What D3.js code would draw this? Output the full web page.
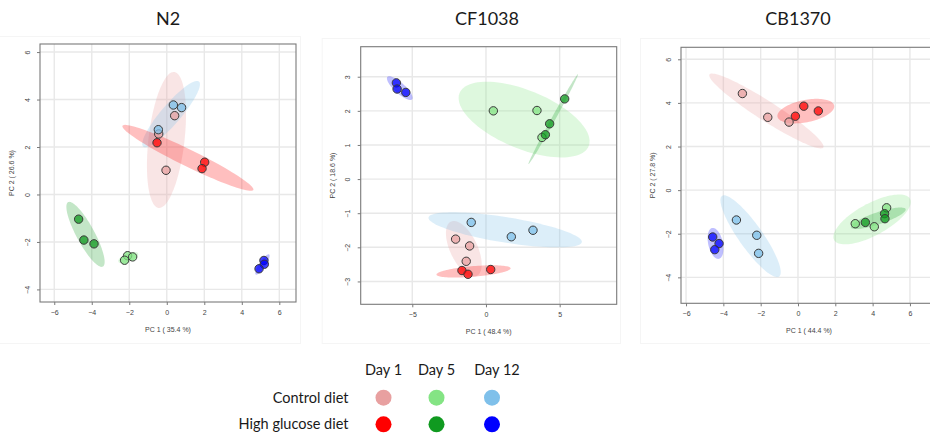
<!DOCTYPE html>
<html>
<head>
<meta charset="utf-8">
<script src="https://cdn.jsdelivr.net/npm/d3@7"></script>
<style>
  html, body { margin: 0; padding: 0; background: #fff; }
  svg { display: block; }
</style>
</head>
<body>
<svg id="chart" width="930" height="435"></svg>
<script>
// PCA scores (PC1, PC2) per strain, diet and day
const n2Control1 = [[0.42, 3.32], [-0.43, 2.55], [-0.04, 1.02]];
const n2Control5 = [[-2.09, -2.58], [-1.82, -2.63], [-2.25, -2.77]];
const n2Control12 = [[0.35, 3.77], [0.79, 3.66], [-0.45, 2.73]];
const n2Glucose1 = [[-0.52, 2.18], [2.02, 1.36], [1.88, 1.09]];
const n2Glucose5 = [[-4.70, -1.04], [-4.42, -1.92], [-3.88, -2.08]];
const n2Glucose12 = [[5.18, -2.78], [5.20, -2.94], [4.92, -3.13]];

const cfControl1 = [[-2.06, -1.76], [-1.11, -1.96], [-1.34, -2.41]];
const cfControl5 = [[0.50, 2.00], [3.46, 2.01], [3.80, 1.22]];
const cfControl12 = [[-1.00, -1.27], [1.72, -1.69], [3.19, -1.50]];
const cfGlucose1 = [[-1.63, -2.68], [-1.22, -2.79], [0.32, -2.65]];
const cfGlucose5 = [[5.34, 2.35], [4.32, 1.62], [4.03, 1.30]];
const cfGlucose12 = [[-6.08, 2.82], [-6.03, 2.64], [-5.44, 2.54]];

const cbControl1 = [[-2.98, 4.43], [-1.62, 3.34], [-0.48, 3.12]];
const cbControl5 = [[3.07, -1.54], [4.09, -1.68], [4.75, -0.81]];
const cbControl12 = [[-3.30, -1.37], [-2.21, -2.07], [-2.11, -2.90]];
const cbGlucose1 = [[-0.14, 3.39], [0.31, 3.85], [1.09, 3.63]];
const cbGlucose5 = [[3.61, -1.48], [4.64, -1.08], [4.66, -1.31]];
const cbGlucose12 = [[-4.57, -2.15], [-4.23, -2.45], [-4.46, -2.73]];

const strains = ["N2", "CF1038", "CB1370"];
const pc1Labels = ["PC 1 ( 35.4 %)", "PC 1 ( 48.4 %)", "PC 1 ( 44.4 %)"];
const pc2Labels = ["PC 2 ( 26.6 %)", "PC 2 ( 18.6 %)", "PC 2 ( 27.8 %)"];
const xTickValues = [[-6, -4, -2, 0, 2, 4, 6], [-5, 0, 5], [-6, -4, -2, 0, 2, 4, 6]];
const yTickValues = [[-4, -2, 0, 2, 4, 6], [-3, -2, -1, 0, 1, 2, 3], [-4, -2, 0, 2, 4, 6]];
const xDomains = [[-6.76, 6.89], [-8.5, 8.87], [-6.27, 7.45]];
const yDomains = [[-4.53, 6.34], [-3.67, 3.88], [-5.19, 6.55]];

const days = ["Day 1", "Day 5", "Day 12"];
const diets = ["Control diet", "High glucose diet"];
const controlColors = ["#e8a0a0", "#84e484", "#7fc0ea"];
const glucoseColors = ["#ff0000", "#109a20", "#0000ff"];

// groups per strain, ordered: control d1, d5, d12, glucose d1, d5, d12
const strainGroups = [
  [n2Control1, n2Control5, n2Control12, n2Glucose1, n2Glucose5, n2Glucose12],
  [cfControl1, cfControl5, cfControl12, cfGlucose1, cfGlucose5, cfGlucose12],
  [cbControl1, cbControl5, cbControl12, cbGlucose1, cbGlucose5, cbGlucose12]
];
const groupColors = controlColors.concat(glucoseColors);

// panel frames (px)
const frames = [
  { left: 40, top: 44, width: 256, height: 258 },
  { left: 360.7, top: 46.7, width: 256, height: 257.6 },
  { left: 681, top: 47.3, width: 256, height: 256 }
];
// outer panel borders (faint)
const panelBoxes = [
  { x: -2, y: 36, w: 302, h: 307 },
  { x: 321.7, y: 38, w: 298.3, h: 305 },
  { x: 640, y: 38, w: 300, h: 305 }
];

const svg = d3.select("#chart");
svg.append("rect").attr("width", 930).attr("height", 435).attr("fill", "#fff");

svg.selectAll("rect.panel").data(panelBoxes).join("rect")
  .attr("class", "panel")
  .attr("x", d => d.x + 0.5).attr("y", d => d.y + 0.5)
  .attr("width", d => d.w).attr("height", d => d.h)
  .attr("fill", "none").attr("stroke", "#f5f5f5").attr("stroke-width", 1);

const chi2Radius = Math.sqrt(5.991465); // 95% level, 2 dof

// 95% confidence ellipse from sample covariance
function ellipsePoints(pts) {
  const n = pts.length;
  const mx = d3.mean(pts, d => d[0]);
  const my = d3.mean(pts, d => d[1]);
  let sxx = 0, syy = 0, sxy = 0;
  pts.forEach(([x, y]) => {
    sxx += (x - mx) * (x - mx);
    syy += (y - my) * (y - my);
    sxy += (x - mx) * (y - my);
  });
  sxx /= (n - 1); syy /= (n - 1); sxy /= (n - 1);
  const tr = sxx + syy, det = sxx * syy - sxy * sxy;
  const disc = Math.sqrt(Math.max(0, tr * tr / 4 - det));
  const l1 = tr / 2 + disc, l2 = Math.max(0, tr / 2 - disc);
  let v1;
  if (Math.abs(sxy) > 1e-12) v1 = [l1 - syy, sxy];
  else v1 = sxx >= syy ? [1, 0] : [0, 1];
  const norm = Math.hypot(v1[0], v1[1]);
  v1 = [v1[0] / norm, v1[1] / norm];
  const v2 = [-v1[1], v1[0]];
  const a = chi2Radius * Math.sqrt(l1), b = chi2Radius * Math.sqrt(l2);
  const out = [];
  for (let i = 0; i < 100; i++) {
    const t = 2 * Math.PI * i / 100;
    const c = Math.cos(t) * a, s = Math.sin(t) * b;
    out.push([mx + c * v1[0] + s * v2[0], my + c * v1[1] + s * v2[1]]);
  }
  return out;
}

strains.forEach((name, k) => {
  const f = frames[k];
  const x = d3.scaleLinear().domain(xDomains[k]).range([f.left, f.left + f.width]);
  const y = d3.scaleLinear().domain(yDomains[k]).range([f.top + f.height, f.top]);
  const g = svg.append("g");

  const clipId = "clip" + k;
  g.append("clipPath").attr("id", clipId).append("rect")
    .attr("x", f.left).attr("y", f.top).attr("width", f.width).attr("height", f.height);

  const plot = g.append("g").attr("clip-path", `url(#${clipId})`);

  // grid
  plot.selectAll("line.gx").data(xTickValues[k]).join("line")
    .attr("x1", d => x(d)).attr("x2", d => x(d))
    .attr("y1", f.top).attr("y2", f.top + f.height)
    .attr("stroke", "#e8e8e8").attr("stroke-width", 1.4);
  plot.selectAll("line.gy").data(yTickValues[k]).join("line")
    .attr("y1", d => y(d)).attr("y2", d => y(d))
    .attr("x1", f.left).attr("x2", f.left + f.width)
    .attr("stroke", "#e8e8e8").attr("stroke-width", 1.4);

  const line = d3.line().x(d => x(d[0])).y(d => y(d[1])).curve(d3.curveLinearClosed);
  const groups = strainGroups[k];

  // ellipses
  groups.forEach((pts, i) => {
    plot.append("path")
      .attr("d", line(ellipsePoints(pts)))
      .attr("fill", groupColors[i])
      .attr("fill-opacity", i < 3 ? 0.27 : 0.25)
      .attr("stroke", "none");
  });

  // sample points
  groups.forEach((pts, i) => {
    plot.selectAll(null).data(pts).join("circle")
      .attr("cx", d => x(d[0])).attr("cy", d => y(d[1]))
      .attr("r", 4.2)
      .attr("fill", groupColors[i])
      .attr("fill-opacity", 0.75)
      .attr("stroke", "#3a3a3a")
      .attr("stroke-width", 1);
  });

  // frame
  g.append("rect")
    .attr("x", f.left).attr("y", f.top).attr("width", f.width).attr("height", f.height)
    .attr("fill", "none").attr("stroke", "#7a7a7a").attr("stroke-width", 1.1);

  // axes
  const xAxis = d3.axisBottom(x).tickValues(xTickValues[k]).tickSize(3).tickPadding(5).tickFormat(d3.format("d"));
  const yAxis = d3.axisLeft(y).tickValues(yTickValues[k]).tickSize(3).tickPadding(5).tickFormat(d3.format("d"));
  const gx = g.append("g").attr("transform", `translate(0,${f.top + f.height})`).call(xAxis);
  const gy = g.append("g").attr("transform", `translate(${f.left},0)`).call(yAxis);
  [gx, gy].forEach(a => {
    a.select(".domain").remove();
    a.selectAll(".tick line").attr("stroke", "#7a7a7a");
    a.selectAll(".tick text").attr("fill", "#444")
      .style("font-family", "'Liberation Sans', Arial, sans-serif").style("font-size", "7px");
  });
  gy.selectAll(".tick text")
    .attr("x", null).attr("dy", null)
    .attr("text-anchor", "middle")
    .attr("transform", "translate(-10.5,0) rotate(-90)");

  // axis titles
  g.append("text")
    .attr("x", f.left + f.width / 2).attr("y", f.top + f.height + 29.5)
    .attr("text-anchor", "middle")
    .style("font-family", "'Liberation Sans', Arial, sans-serif").style("font-size", "7px")
    .attr("fill", "#444").text(pc1Labels[k]);
  g.append("text")
    .attr("transform", `translate(${f.left - 26},${f.top + f.height / 2}) rotate(-90)`)
    .attr("text-anchor", "middle")
    .style("font-family", "'Liberation Sans', Arial, sans-serif").style("font-size", "7px")
    .attr("fill", "#444").text(pc2Labels[k]);
});

// panel titles
const titleX = [168, 487, 798];
svg.selectAll("text.title").data(strains).join("text")
  .attr("class", "title")
  .attr("x", (d, i) => titleX[i]).attr("y", 25)
  .attr("text-anchor", "middle")
  .style("font-family", "Lato, 'Open Sans', sans-serif").style("font-size", "18px")
  .attr("fill", "#1a1a1a").text(d => d);

// legend
const legendFont = "Lato, 'Open Sans', sans-serif";
const colX = [383.5, 436.5, 492];
const rowY = [397.7, 424.3];
const legend = svg.append("g");
legend.selectAll("text.day").data(days).join("text")
  .attr("x", (d, i) => colX[i] + (i === 2 ? 5 : 0)).attr("y", 375)
  .attr("text-anchor", "middle")
  .style("font-family", legendFont).style("font-size", "14.5px")
  .attr("fill", "#1a1a1a").text(d => d);
legend.selectAll("text.diet").data(diets).join("text")
  .attr("x", 348.5).attr("y", (d, i) => rowY[i] + 5)
  .attr("text-anchor", "end")
  .style("font-family", legendFont).style("font-size", "14.5px")
  .attr("fill", "#1a1a1a").text(d => d);
[controlColors, glucoseColors].forEach((cols, r) => {
  legend.selectAll(null).data(cols).join("circle")
    .attr("cx", (d, i) => colX[i]).attr("cy", rowY[r])
    .attr("r", 8).attr("fill", d => d);
});
</script>
</body>
</html>
